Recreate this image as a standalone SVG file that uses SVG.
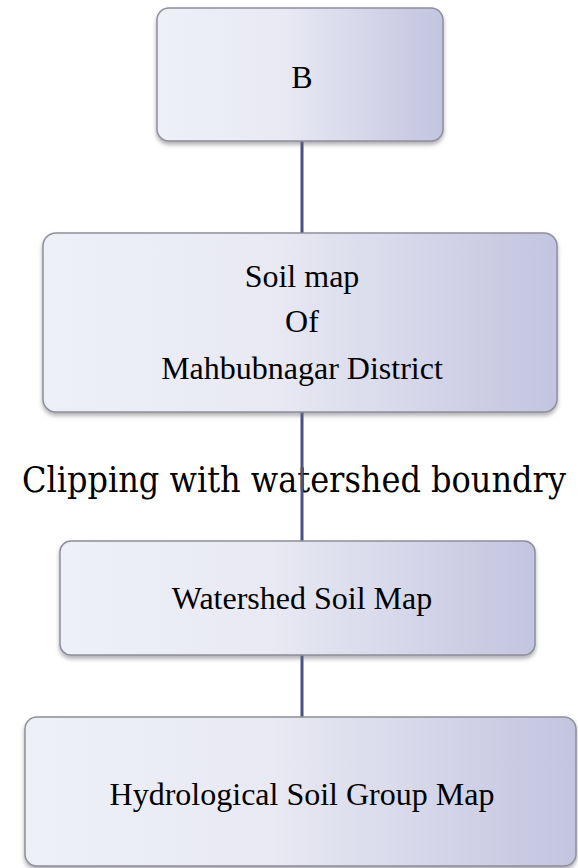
<svg xmlns="http://www.w3.org/2000/svg" width="578" height="868" viewBox="0 0 578 868">
  <defs>
    <linearGradient id="boxFill" x1="0" y1="0" x2="1" y2="0">
      <stop offset="0" stop-color="#eef0f8"/>
      <stop offset="0.45" stop-color="#e8e9f3"/>
      <stop offset="1" stop-color="#c3c4df"/>
    </linearGradient>
    <filter id="shadow" x="-5%" y="-5%" width="110%" height="115%">
      <feDropShadow dx="0" dy="3" stdDeviation="2" flood-color="#6c6c78" flood-opacity="0.55"/>
    </filter>
  </defs>
  <style>
    .box { fill: url(#boxFill); stroke: #8e8f9c; stroke-width: 1.5; filter: url(#shadow); }
    .lbl { font-family: "Liberation Serif", "Times New Roman", serif; font-size: 32px; fill: #000; text-anchor: middle; }
    .clip { font-family: "DejaVu Serif", Georgia, serif; font-size: 35px; fill: #000; }
    .conn { stroke: #4b4f86; stroke-width: 3; fill: none; }
  </style>
  <rect width="578" height="868" fill="#ffffff"/>

  <text class="clip" x="22" y="492" textLength="544" lengthAdjust="spacingAndGlyphs">Clipping with watershed boundry</text>

  <g id="connectors">
    <line class="conn" x1="302" y1="140" x2="302" y2="234"/>
    <line class="conn" x1="302" y1="411" x2="302" y2="542"/>
    <line class="conn" x1="302" y1="654" x2="302" y2="718"/>
  </g>

  <g id="node-b">
    <rect class="box" x="157" y="8" width="286" height="133" rx="12"/>
    <text class="lbl" x="302" y="88">B</text>
  </g>

  <g id="node-soil-map">
    <rect class="box" x="43" y="233" width="514" height="179" rx="13"/>
    <text class="lbl" x="302" y="287">Soil map</text>
    <text class="lbl" x="302" y="332">Of</text>
    <text class="lbl" x="302" y="379">Mahbubnagar District</text>
  </g>

  <g id="node-watershed">
    <rect class="box" x="60" y="541" width="475" height="114" rx="11"/>
    <text class="lbl" x="302" y="609">Watershed Soil Map</text>
  </g>

  <g id="node-hsg">
    <rect class="box" x="25" y="717" width="551" height="149" rx="12"/>
    <text class="lbl" x="302" y="805">Hydrological Soil Group Map</text>
  </g>
</svg>
